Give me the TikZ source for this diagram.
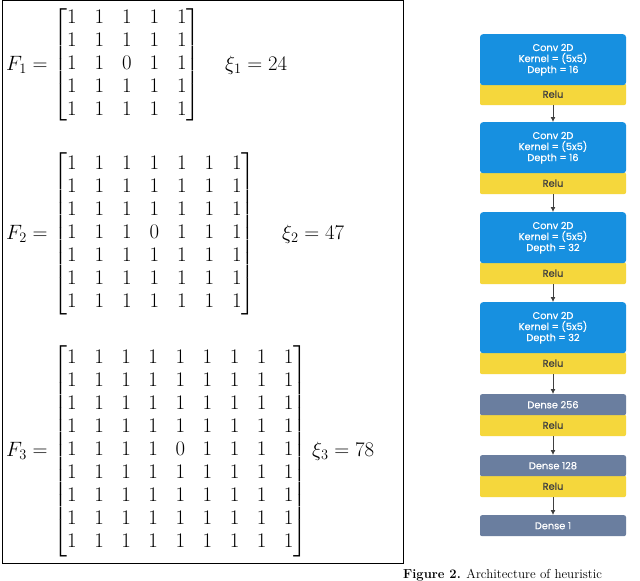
\documentclass[tikz,border=0pt]{standalone}
\usepackage{amsmath}
\usepackage{fontspec}
\usetikzlibrary{arrows.meta}
\newfontfamily\netfont[FakeBold=0.6]{Poppins}
\definecolor{convb}{HTML}{1790E0}
\definecolor{reluy}{HTML}{F5D73C}
\definecolor{densg}{HTML}{6A7E9F}
\tikzset{
 blk/.style={minimum width=146pt,inner sep=0pt,font=\netfont\fontsize{9.8}{11}\selectfont,align=center,anchor=north},
 conv/.style={blk,fill=convb,text=white,minimum height=51pt,rounded corners=3pt},
 relu/.style={blk,fill=reluy,text=black!75,minimum height=22pt,rounded corners=2pt},
 dens/.style={blk,fill=densg,text=white,minimum height=21pt,rounded corners=2pt},
 arr/.style={-{Latex[length=5pt,width=5pt]},black!75,line width=0.8pt},
 mat/.style={font=\fontsize{20}{23}\selectfont,inner sep=0pt}
}
\begin{document}
\begin{tikzpicture}[x=1pt,y=-1pt]
\useasboundingbox (0,0) rectangle (640,581);
\fill[white] (0,0) rectangle (640,581);
\draw[line width=1pt] (2,0) rectangle (403,563);
\arraycolsep=9pt
\node[mat,anchor=west] (m1) at (6,65) {$F_1=\begin{bmatrix}1&1&1&1&1\\1&1&1&1&1\\1&1&0&1&1\\1&1&1&1&1\\1&1&1&1&1\end{bmatrix}$};
\node[mat,anchor=west] (x1) at (225,65) {$\xi_1=24$};
\node[mat,anchor=west] (m2) at (6,234) {$F_2=\begin{bmatrix}1&1&1&1&1&1&1\\1&1&1&1&1&1&1\\1&1&1&1&1&1&1\\1&1&1&0&1&1&1\\1&1&1&1&1&1&1\\1&1&1&1&1&1&1\\1&1&1&1&1&1&1\end{bmatrix}$};
\node[mat,anchor=west] (x2) at (282,234) {$\xi_2=47$};
{\arraycolsep=8.8pt
\node[mat,anchor=west] (m3) at (6,451) {$F_3=\begin{bmatrix}1&1&1&1&1&1&1&1&1\\1&1&1&1&1&1&1&1&1\\1&1&1&1&1&1&1&1&1\\1&1&1&1&1&1&1&1&1\\1&1&1&1&0&1&1&1&1\\1&1&1&1&1&1&1&1&1\\1&1&1&1&1&1&1&1&1\\1&1&1&1&1&1&1&1&1\\1&1&1&1&1&1&1&1&1\end{bmatrix}$};}
\node[mat,anchor=west] (x3) at (312,451) {$\xi_3=78$};
% network
\node[relu] (r1) at (553,83) {Relu};
\node[conv] (c1) at (553,34) {Conv 2D\\Kernel = (5x5)\\Depth = 16};
\node[relu] (r2) at (553,172) {Relu};
\node[conv] (c2) at (553,122) {Conv 2D\\Kernel = (5x5)\\Depth = 16};
\node[relu] (r3) at (553,262) {Relu};
\node[conv] (c3) at (553,212) {Conv 2D\\Kernel = (5x5)\\Depth = 32};
\node[relu] (r4) at (553,352) {Relu};
\node[conv] (c4) at (553,302) {Conv 2D\\Kernel = (5x5)\\Depth = 32};
\node[relu] (r5) at (553,414) {Relu};
\node[dens] (d1) at (553,394) {Dense 256};
\node[relu] (r6) at (553,475) {Relu};
\node[dens] (d2) at (553,455) {Dense 128};
\node[dens] (d3) at (553,515) {Dense 1};
\draw[arr] (r1.south) -- (c2.north);
\draw[arr] (r2.south) -- (c3.north);
\draw[arr] (r3.south) -- (c4.north);
\draw[arr] (r4.south) -- (d1.north);
\draw[arr] (r5.south) -- (d2.north);
\draw[arr] (r6.south) -- (d3.north);
\node[anchor=base west,inner sep=0pt,font=\fontsize{13}{15}\selectfont] (cap) at (403,578) {\textbf{Figure 2.} Architecture of heuristic};
\end{tikzpicture}
\end{document}
